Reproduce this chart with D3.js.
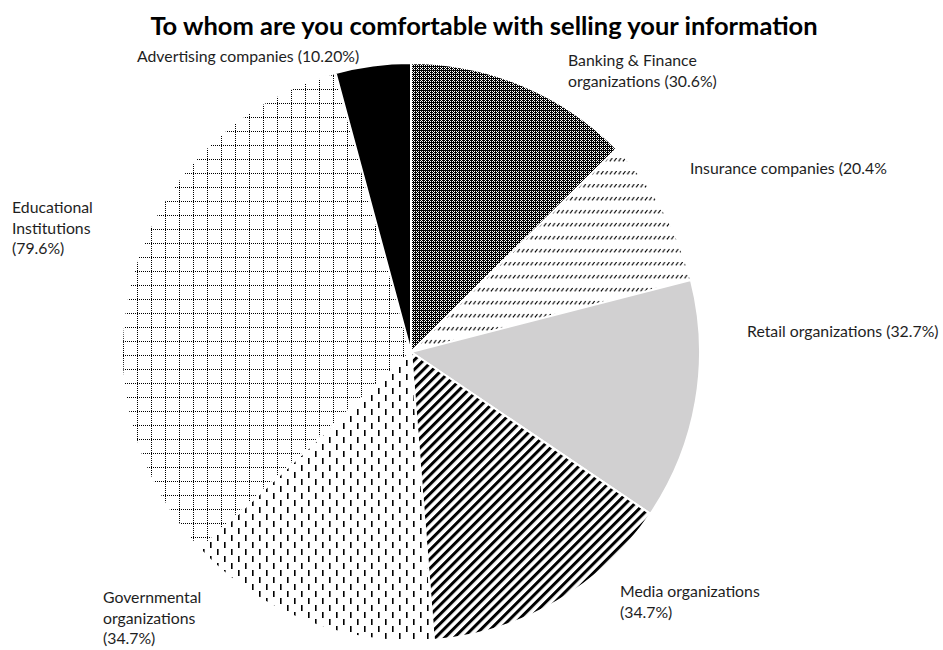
<!DOCTYPE html>
<html>
<head>
<meta charset="utf-8">
<script src="https://cdn.jsdelivr.net/npm/d3@7/dist/d3.min.js"></script>
<style>
  html, body { margin: 0; padding: 0; background: #fff; }
  svg { display: block; }
</style>
</head>
<body>
<svg id="chart" width="943" height="650"></svg>
<script>
// Survey answers: share of respondents comfortable selling their data to each kind of buyer
const categories = [
  "Banking & Finance organizations",
  "Insurance companies",
  "Retail organizations",
  "Media organizations",
  "Governmental organizations",
  "Educational Institutions",
  "Advertising companies"
];
const values = [30.6, 20.4, 32.7, 34.7, 34.7, 79.6, 10.2];
const labelLines = [
  ["Banking & Finance", "organizations (30.6%)"],
  ["Insurance companies (20.4%"],
  ["Retail organizations (32.7%)"],
  ["Media organizations", "(34.7%)"],
  ["Governmental", "organizations", "(34.7%)"],
  ["Educational", "Institutions", "(79.6%)"],
  ["Advertising companies (10.20%)"]
];
const fillKeys = ["checker", "dashdiag", "gray", "widediag", "vdash", "dotgrid", "black"];
const chartTitle = "To whom are you comfortable with selling your information";

// Layout
const W = 943, H = 650;
const cx = 411, cy = 352, R = 289;
// label anchor (left x, first baseline y) for each slice
const labelAnchors = [
  [568, 66], [690, 174], [747, 337], [620, 597], [103, 603], [12, 213], [137, 62]
];
const lineHeight = 20.5;

const svg = d3.select("#chart");
const defs = svg.append("defs");

// --- fill patterns ---
// dense dark checker
{
  const p = defs.append("pattern").attr("id", "checker").attr("patternUnits", "userSpaceOnUse")
    .attr("width", 4).attr("height", 4);
  p.append("rect").attr("width", 4).attr("height", 4).attr("fill", "#000");
  [[1, 1], [3, 1], [1, 3], [3, 3], [2, 0]].forEach(([x, y]) =>
    p.append("rect").attr("x", x).attr("y", y).attr("width", 1).attr("height", 1).attr("fill", "#fff"));
}
// rows of small diagonal dashes
{
  const p = defs.append("pattern").attr("id", "dashdiag").attr("patternUnits", "userSpaceOnUse")
    .attr("width", 4.4).attr("height", 13);
  p.append("rect").attr("width", 4.4).attr("height", 13).attr("fill", "#fff");
  p.append("line").attr("x1", 0.8).attr("y1", 4.4).attr("x2", 3.2).attr("y2", 1)
    .attr("stroke", "#000").attr("stroke-width", 1.1);
}
// wide upward diagonal stripes
{
  const p = defs.append("pattern").attr("id", "widediag").attr("patternUnits", "userSpaceOnUse")
    .attr("width", 6.6).attr("height", 6.6).attr("patternTransform", "rotate(45)");
  p.append("rect").attr("width", 6.6).attr("height", 6.6).attr("fill", "#fff");
  p.append("rect").attr("x", 0).attr("width", 3).attr("height", 6.6).attr("fill", "#000");
}
// staggered vertical dashes
{
  const p = defs.append("pattern").attr("id", "vdash").attr("patternUnits", "userSpaceOnUse")
    .attr("width", 14).attr("height", 14);
  p.append("rect").attr("width", 14).attr("height", 14).attr("fill", "#fff");
  p.append("rect").attr("x", 2).attr("y", 1).attr("width", 1.6).attr("height", 6).attr("fill", "#000");
  p.append("rect").attr("x", 9).attr("y", 8).attr("width", 1.6).attr("height", 6).attr("fill", "#000");
}
// dotted grid
{
  const p = defs.append("pattern").attr("id", "dotgrid").attr("patternUnits", "userSpaceOnUse")
    .attr("width", 14).attr("height", 14);
  p.append("rect").attr("width", 14).attr("height", 14).attr("fill", "#fff");
  for (let i = 0; i < 14; i += 2) {
    p.append("rect").attr("x", i).attr("y", 3).attr("width", 1).attr("height", 1).attr("fill", "#000");
    p.append("rect").attr("x", 6).attr("y", i).attr("width", 1).attr("height", 1).attr("fill", "#000");
  }
}
const fillFor = {
  checker: "url(#checker)",
  dashdiag: "url(#dashdiag)",
  gray: "#d1d0d1",
  widediag: "url(#widediag)",
  vdash: "url(#vdash)",
  dotgrid: "url(#dotgrid)",
  black: "#000"
};

// --- title ---
svg.append("text")
  .attr("x", 484).attr("y", 35)
  .attr("text-anchor", "middle")
  .attr("font-family", "Lato, 'Open Sans', sans-serif")
  .attr("font-weight", "bold")
  .attr("font-size", 25.5)
  .attr("fill", "#000")
  .text(chartTitle);

// --- pie ---
const data = categories.map((c, i) => ({ name: c, value: values[i], i }));
const pie = d3.pie().sort(null).value(d => d.value).startAngle(0).endAngle(2 * Math.PI);
const arc = d3.arc().innerRadius(0).outerRadius(R);

const g = svg.append("g").attr("transform", `translate(${cx},${cy})`);
g.selectAll("path.slice")
  .data(pie(data))
  .join("path")
  .attr("class", "slice")
  .attr("d", arc)
  .attr("fill", d => fillFor[fillKeys[d.data.i]])
  .attr("stroke", "#fff")
  .attr("stroke-width", 2)
  .attr("stroke-linejoin", "round");

// --- labels ---
const lbl = svg.append("g")
  .attr("font-family", "Lato, 'Open Sans', sans-serif")
  .attr("font-size", 15.8)
  .attr("fill", "#1e1e1e");
data.forEach((d, i) => {
  const [x, y] = labelAnchors[i];
  const t = lbl.append("text").attr("x", x).attr("y", y);
  labelLines[i].forEach((line, k) => {
    t.append("tspan").attr("x", x).attr("y", y + k * lineHeight).text(line);
  });
});
</script>
</body>
</html>
